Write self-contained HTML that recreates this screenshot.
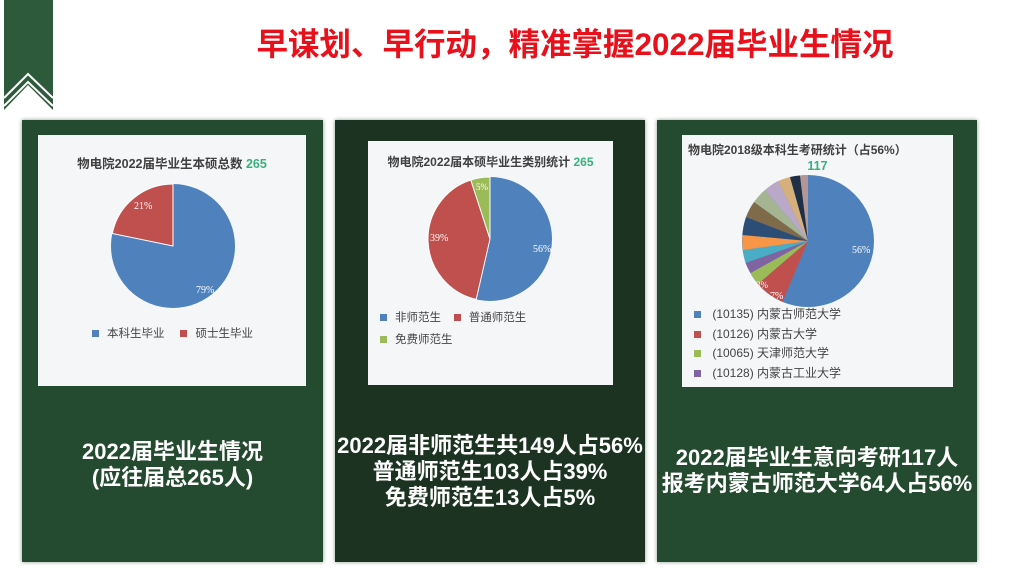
<!DOCTYPE html>
<html><head><meta charset="utf-8"><style>
body{margin:0;width:1024px;height:577px;background:#fff;position:relative;overflow:hidden;font-family:"Liberation Sans","Noto Sans CJK SC",sans-serif}
.p{position:absolute;top:120px;height:442px;background:#244a2f;box-shadow:0 0 4px #8a9a8a}
.card{position:absolute;background:#f5f6f8}
.t{position:absolute;left:-10px;right:-10px;text-align:center;color:#fff;font-weight:bold;font-size:22px;line-height:26px;white-space:nowrap}
.ct{position:absolute;left:0;right:0;text-align:center;font-weight:bold;font-size:12.5px;color:#404040;white-space:nowrap}
.g{color:#3ab07c}
.lg{position:absolute;font-size:11.5px;color:#444}
.sq{display:inline-block;width:7px;height:7px;margin-right:8px}
</style></head><body>
<svg style="position:absolute;left:0;top:0" width="60" height="115"><polygon points="4,0 53,0 53,110 28,85 4,110" fill="#2d5a3a"/>
<polyline points="4,98 28,74 53,98" fill="none" stroke="#fff" stroke-width="2"/><polyline points="4,106 28,82 53,106" fill="none" stroke="#fff" stroke-width="2"/></svg>
<div style="position:absolute;left:200px;width:750px;top:24px;text-align:center;color:#e8101a;font-weight:bold;font-size:31.5px;line-height:40px">早谋划、早行动，精准掌握2022届毕业生情况</div>

<div class="p" style="left:22px;width:301px">
 <div class="card" style="left:16px;top:15px;width:268px;height:251px">
  <div class="ct" style="top:18px">物电院2022届毕业生本硕总数 <span class="g">265</span></div>
  <svg style="position:absolute;left:0;top:0" width="268" height="251">
   <circle cx="135" cy="111" r="62" fill="#4f81bd"/>
   <path d="M135,111 L135,49 A62,62 0 0 0 74.3,98.5 Z" fill="#c0504d" stroke="#fff" stroke-width="1"/>
   <text x="96" y="74" font-size="10" fill="#fff" font-family="Liberation Serif">21%</text>
   <text x="158" y="158" font-size="10" fill="#fff" font-family="Liberation Serif">79%</text>
  </svg>
  <div class="lg" style="left:54px;top:190px"><span class="sq" style="background:#4f81bd"></span>本科生毕业 &nbsp;&nbsp;&nbsp;&nbsp;<span class="sq" style="background:#c0504d"></span>硕士生毕业</div>
 </div>
 <div class="t" style="top:319px">2022届毕业生情况<br>(应往届总265人)</div>
</div>

<div class="p" style="left:335px;width:310px;background:#1d3321">
 <div class="card" style="left:33px;top:21px;width:245px;height:244px">
  <div class="ct" style="top:12px;font-size:12px">物电院2022届本硕毕业生类别统计 <span class="g">265</span></div>
  <svg style="position:absolute;left:0;top:0" width="245" height="244">
   <circle cx="122" cy="98" r="62" fill="#4f81bd"/>
   <path d="M122,98 L108.2,158.4 A62,62 0 0 1 102.8,39 Z" fill="#c0504d" stroke="#fff" stroke-width="1"/>
   <path d="M122,98 L102.8,39 A62,62 0 0 1 122,36 Z" fill="#9bbb59" stroke="#fff" stroke-width="1"/>
   <text x="108" y="49" font-size="9" fill="#fff" font-family="Liberation Serif">5%</text>
   <text x="62" y="100" font-size="10" fill="#fff" font-family="Liberation Serif">39%</text>
   <text x="165" y="111" font-size="10" fill="#fff" font-family="Liberation Serif">56%</text>
  </svg>
  <div class="lg" style="left:12px;top:168px"><span class="sq" style="background:#4f81bd"></span>非师范生 &nbsp;&nbsp;&nbsp;<span class="sq" style="background:#c0504d"></span>普通师范生</div>
  <div class="lg" style="left:12px;top:190px"><span class="sq" style="background:#9bbb59"></span>免费师范生</div>
 </div>
 <div class="t" style="top:313px">2022届非师范生共149人占56%<br>普通师范生103人占39%<br>免费师范生13人占5%</div>
</div>

<div class="p" style="left:657px;width:320px">
 <div class="card" style="left:25px;top:15px;width:271px;height:252px">
  <div class="ct" style="top:6px;text-align:left;left:6px;font-size:12px">物电院2018级本科生考研统计（占56%）</div>
  <div class="ct g" style="top:24px">117</div>
  <svg style="position:absolute;left:0;top:0" width="271" height="252">
   <circle cx="126" cy="106" r="66" fill="#4f81bd"/>
   <path d="M126,106 L100.5,166.9 A66,66 0 0 1 76,149 Z" fill="#c0504d"/>
   <path d="M126,106 L76,149 A66,66 0 0 1 68.5,138 Z" fill="#9bbb59"/>
   <path d="M126,106 L68.5,138 A66,66 0 0 1 63.5,128 Z" fill="#8064a2"/>
   <path d="M126,106 L63.5,128 A66,66 0 0 1 61,115 Z" fill="#4bacc6"/>
   <path d="M126,106 L61,115 A66,66 0 0 1 60.5,100 Z" fill="#f79646"/>
   <path d="M126,106 L60.5,100 A66,66 0 0 1 64,82 Z" fill="#2c4d75"/>
   <path d="M126,106 L64,82 A66,66 0 0 1 72,67 Z" fill="#7f6a4a"/>
   <path d="M126,106 L72,67 A66,66 0 0 1 83,55 Z" fill="#a5b592"/>
   <path d="M126,106 L83,55 A66,66 0 0 1 96,46 Z" fill="#b9a8c8"/>
   <path d="M126,106 L96,46 A66,66 0 0 1 108,42 Z" fill="#d6b07c"/>
   <path d="M126,106 L108,42 A66,66 0 0 1 118,40.5 Z" fill="#1f2f45"/>
   <path d="M126,106 L118,40.5 A66,66 0 0 1 126,40 Z" fill="#b49696"/>
   <text x="170" y="118" font-size="10" fill="#fff" font-family="Liberation Serif">56%</text>
   <text x="88" y="164" font-size="10" fill="#fff" font-family="Liberation Serif">7%</text>
   <text x="74" y="153" font-size="9" fill="#fff" font-family="Liberation Serif">3%</text>
  </svg>
  <div class="lg" style="left:12px;top:170px;line-height:19.5px;font-size:12px">
   <div><span class="sq" style="background:#4f81bd"></span> (10135) 内蒙古师范大学</div>
   <div><span class="sq" style="background:#c0504d"></span> (10126) 内蒙古大学</div>
   <div><span class="sq" style="background:#9bbb59"></span> (10065) 天津师范大学</div>
   <div><span class="sq" style="background:#8064a2"></span> (10128) 内蒙古工业大学</div>
  </div>
 </div>
 <div class="t" style="top:325px">2022届毕业生意向考研117人<br>报考内蒙古师范大学64人占56%</div>
</div>
</body></html>
